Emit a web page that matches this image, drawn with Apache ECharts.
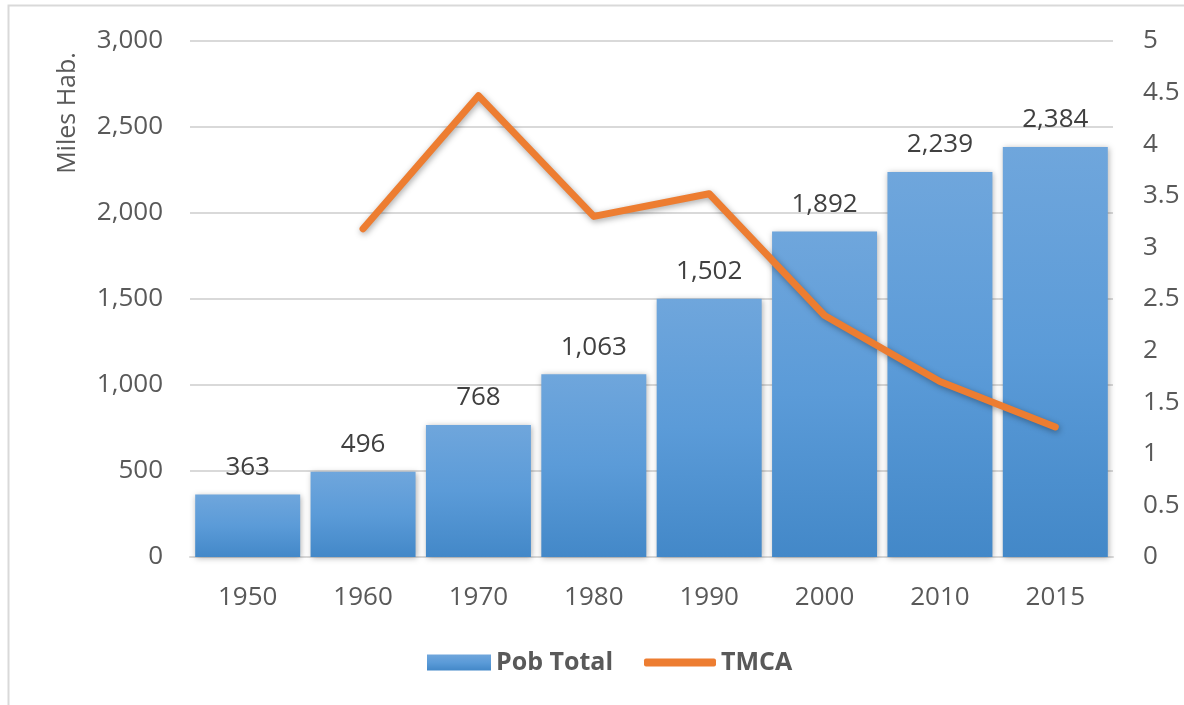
<!DOCTYPE html>
<html><head><meta charset="utf-8">
<script src="https://cdn.jsdelivr.net/npm/echarts@6/dist/echarts.min.js"></script>
<style>html,body{margin:0;padding:0;background:#fff}#c{width:1184px;height:705px}</style>
</head><body><div id="c"></div>
<script>
const categories = ['1950','1960','1970','1980','1990','2000','2010','2015'];
const pobTotal = [363, 496, 768, 1063, 1502, 1892, 2239, 2384];
const tmca = [null, 3.18, 4.47, 3.30, 3.52, 2.34, 1.70, 1.26];
const fontFam = '"Open Sans", "Noto Sans", sans-serif';
const chart = echarts.init(document.getElementById('c'));
const legendText = {fontFamily: fontFam, fontSize: 25, fontWeight: 'bold', color: '#595959'};
chart.setOption({
  animation: false,
  backgroundColor: '#fff',
  graphic: [
    {type:'rect', shape:{x:8.5,y:5.5,width:1200,height:720}, style:{fill:'none', stroke:'#d9d9d9', lineWidth:2}, silent:true},
    {type:'text', x:68, y:113, rotation: Math.PI/2, style:{text:'Miles Hab.', fontFamily: fontFam, fontSize: 25, fill:'#595959', align:'center', verticalAlign:'middle'}}
  ],
  grid: {left:190, right:71, top:41, bottom:148},
  legend: [{
    left: 422, top: 645, itemWidth: 64, itemHeight: 16,
    textStyle: legendText,
    data: [{name:'Pob Total', icon:'rect'}]
  }, {
    left: 639, top: 645, itemWidth: 72, itemHeight: 8,
    textStyle: legendText,
    data: [{name:'TMCA', icon:'roundRect'}]
  }],
  xAxis: {
    type: 'category', data: categories,
    axisLine: {lineStyle:{color:'#d9d9d9', width:2}}, axisTick: {show:false},
    axisLabel: {fontFamily: fontFam, fontSize: 26, color: '#595959', margin: 28}
  },
  yAxis: [{
    type: 'value', min: 0, max: 3000, interval: 500,
    axisLine: {show:false}, axisTick: {show:false},
    splitLine: {lineStyle:{color:'#d9d9d9', width:2}},
    axisLabel: {fontFamily: fontFam, fontSize: 26, color: '#595959', margin: 27,
      formatter: v => v.toLocaleString('en-US')}
  }, {
    type: 'value', min: 0, max: 5, interval: 0.5,
    axisLine: {show:false}, axisTick: {show:false}, splitLine: {show:false},
    axisLabel: {fontFamily: fontFam, fontSize: 26, color: '#595959', margin: 30}
  }],
  series: [{
    name: 'Pob Total', type: 'bar', data: pobTotal, barCategoryGap: '9%',
    itemStyle: {
      color: new echarts.graphic.LinearGradient(0,0,0,1,[{offset:0,color:'#6fa6dc'},{offset:0.5,color:'#5b9bd8'},{offset:1,color:'#4388c8'}]),
      shadowColor: 'rgba(0,0,0,0.3)', shadowBlur: 6, shadowOffsetX: 1, shadowOffsetY: 1
    },
    label: {show:true, position:'top', distance: 14, fontFamily: fontFam, fontSize: 26, color:'#404040',
      formatter: p => p.value.toLocaleString('en-US')}
  }, {
    name: 'TMCA', type: 'line', yAxisIndex: 1, data: tmca, symbol: 'none',
    lineStyle: {color:'#ed7d31', width: 7, cap:'round', join:'round',
      shadowColor:'rgba(0,0,0,0.35)', shadowBlur: 6, shadowOffsetX: 1, shadowOffsetY: 2},
    itemStyle: {color:'#ed7d31'}
  }]
});
</script></body></html>
